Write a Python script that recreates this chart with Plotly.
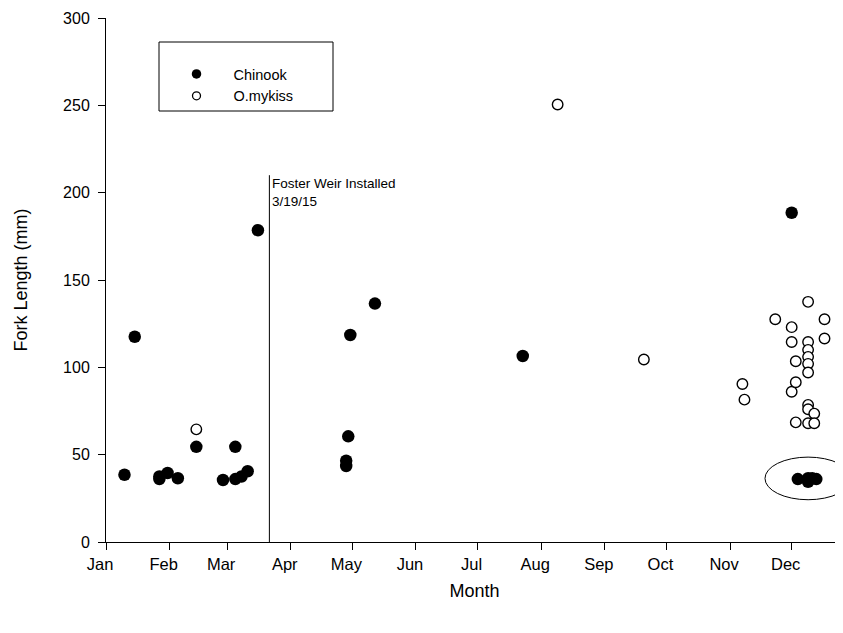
import plotly.graph_objects as go

# ---- data ----
chinook_dates = ["2015-01-10", "2015-01-15", "2015-01-27", "2015-01-27", "2015-01-31",
                 "2015-02-05", "2015-02-14", "2015-02-27", "2015-03-05", "2015-03-05",
                 "2015-03-08", "2015-03-11", "2015-03-16", "2015-04-28", "2015-04-28",
                 "2015-04-29", "2015-04-30", "2015-05-12", "2015-07-23", "2015-12-01",
                 "2015-12-04", "2015-12-09", "2015-12-09", "2015-12-11", "2015-12-13"]
chinook_len = [38.5, 117.5, 36, 37.5, 39.5,
               36.5, 54.5, 35.5, 54.5, 36,
               37.5, 40.5, 178.5, 46.5, 43.5,
               60.5, 118.5, 136.5, 106.5, 188.5,
               36, 34.5, 36.5, 36.5, 36]

mykiss_dates = ["2015-02-14", "2015-08-09", "2015-09-20", "2015-11-07", "2015-11-08",
                "2015-11-23", "2015-12-01", "2015-12-01", "2015-12-01", "2015-12-03",
                "2015-12-03", "2015-12-03", "2015-12-09", "2015-12-09", "2015-12-09",
                "2015-12-09", "2015-12-09", "2015-12-09", "2015-12-09", "2015-12-09",
                "2015-12-09", "2015-12-12", "2015-12-12", "2015-12-17", "2015-12-17"]
mykiss_len = [64.5, 250.5, 104.5, 90.5, 81.5,
              127.5, 123, 114.5, 86, 103.5,
              91.5, 68.5, 137.5, 114.5, 110,
              106, 102, 97, 78.5, 76,
              68, 73.5, 68, 127.5, 116.5]

month_ticks = ["2015-01-01", "2015-02-01", "2015-03-01", "2015-04-01", "2015-05-01",
               "2015-06-01", "2015-07-01", "2015-08-01", "2015-09-01", "2015-10-01",
               "2015-11-01", "2015-12-01"]
month_labels = ["Jan", "Feb", "Mar", "Apr", "May", "Jun", "Jul", "Aug", "Sep", "Oct",
                "Nov", "Dec"]
y_ticks = [0, 50, 100, 150, 200, 250, 300]

weir_date = "2015-03-21 14:00"
weir_top = 210
weir_text = "Foster Weir Installed<br>3/19/15"

ellipse_x = ["2015-11-18", "2015-12-30"]
ellipse_y = [24.2, 48.6]

x_range = ["2015-01-01", "2015-12-26"]
y_range = [0, 300]

FONT = "Arial, 'Liberation Sans', sans-serif"

# page body adds an 8px offset; plot area sits at page x 106..843, y 18..542
L, T, PW, PH = 98, 10, 737, 524

fig = go.Figure()
fig.add_trace(go.Scatter(
    x=chinook_dates, y=chinook_len, mode="markers", name="Chinook", showlegend=False,
    marker=dict(symbol="circle", size=12.5, color="black", line=dict(width=0)),
    cliponaxis=False))
fig.add_trace(go.Scatter(
    x=mykiss_dates, y=mykiss_len, mode="markers", name="O.mykiss", showlegend=False,
    marker=dict(symbol="circle", size=10.5, color="white", line=dict(width=1.4, color="black")),
    cliponaxis=False))
# legend entries (smaller symbols, as in the reference legend)
fig.add_trace(go.Scatter(x=[None], y=[None], mode="markers", name="Chinook",
                         marker=dict(size=9.5, color="black", line=dict(width=0))))
fig.add_trace(go.Scatter(x=[None], y=[None], mode="markers", name="O.mykiss",
                         marker=dict(size=8, color="white", line=dict(width=1.3, color="black"))))

fig.add_shape(type="line", xref="x", yref="y", x0=weir_date, x1=weir_date, y0=0, y1=weir_top,
              line=dict(color="black", width=1))
fig.add_shape(type="circle", xref="x", yref="y", x0=ellipse_x[0], x1=ellipse_x[1],
              y0=ellipse_y[0], y1=ellipse_y[1], line=dict(color="black", width=1))
# legend frame
fig.add_shape(type="rect", xref="paper", yref="paper",
              x0=(151 - L) / PW, x1=(325 - L) / PW,
              y0=(T + PH - 103) / PH, y1=(T + PH - 34) / PH,
              line=dict(color="black", width=1), fillcolor="rgba(0,0,0,0)")

fig.add_annotation(x=weir_date, y=200, xref="x", yref="y", text=weir_text, showarrow=False,
                   xanchor="left", yanchor="middle", align="left", xshift=1,
                   font=dict(family=FONT, size=13.5, color="black"))

fig.update_layout(
    width=843, height=633,
    margin=dict(l=L, r=843 - L - PW, t=T, b=633 - T - PH, autoexpand=False),
    paper_bgcolor="white", plot_bgcolor="white",
    font=dict(family=FONT, color="black", size=16),
    legend=dict(x=(151.5 - L) / PW, y=(T + PH - 50) / PH, xanchor="left", yanchor="top",
                bgcolor="rgba(0,0,0,0)", borderwidth=0, font=dict(size=14.5),
                tracegroupgap=0, itemwidth=64),
)
fig.update_xaxes(
    type="date", range=x_range, tickvals=month_ticks, ticktext=month_labels,
    showgrid=False, zeroline=False, showline=True, linecolor="black", linewidth=1,
    ticks="outside", ticklen=7, tickcolor="black", tickwidth=1, automargin=False,
    ticklabelshift=-6, tickfont=dict(size=16.5),
    title=dict(text="Month", font=dict(size=18), standoff=12),
)
fig.update_yaxes(
    range=y_range, tickvals=y_ticks, automargin=False,
    showgrid=False, zeroline=False, showline=True, linecolor="black", linewidth=1,
    ticks="outside", ticklen=7, tickcolor="black", tickwidth=1, tickfont=dict(size=16),
    ticklabelstandoff=5,
    title=dict(text="Fork Length (mm)", font=dict(size=18), standoff=30),
)

fig.write_html("out.html")
